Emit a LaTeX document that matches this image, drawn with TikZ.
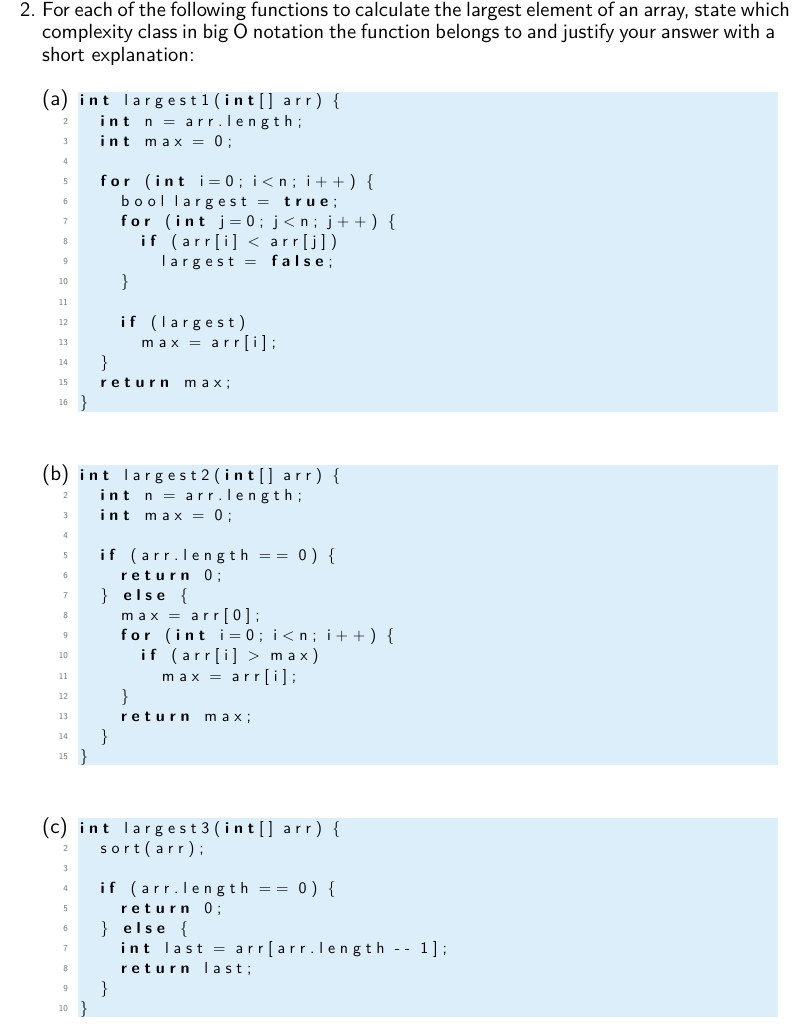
\documentclass[tikz,border=0pt]{standalone}
\usepackage{fontspec}
\newfontfamily\codefont{lmsans10-regular.otf}[BoldFont=lmsans10-bold.otf,LetterSpace=30]
\newfontfamily\plainsans{lmsans10-regular.otf}
\definecolor{codebg}{RGB}{220,238,250}
\definecolor{numgray}{RGB}{110,110,110}
\newcommand\kw[1]{\textbf{#1}}
\def\basea{106}\def\baseb{480}\def\basec{833}
\newcommand\cl[4]{\node[code] (#1#2) at ({80+20.4*#3},{\csname base#1\endcsname+(#2-1)*20.1}) {#4};}
\tikzset{
  code/.style={anchor=base west,inner sep=0pt,font=\codefont\fontsize{16}{16}\selectfont},
  lnum/.style={anchor=base east,inner sep=0pt,text=numgray,font=\plainsans\fontsize{9}{9}\selectfont},
  head/.style={anchor=base west,inner sep=0pt,font=\plainsans\fontsize{20.5}{20.5}\selectfont},
  lab/.style={anchor=base west,inner sep=0pt,font=\plainsans\fontsize{21}{21}\selectfont},
  bg/.style={fill=codebg,draw=none}
}
\begin{document}
\begin{tikzpicture}[x=1pt,y=-1pt]
\useasboundingbox (0,0) rectangle (795,1024);
\fill[white] (0,0) rectangle (795,1024);
% header
\node[head] (h0) at (20,17) {2.};
\node[head] (h1) at (42,17) {\makebox[733pt][s]{For each of the following functions to calculate the largest element of an array, state which}};
\node[head] (h2) at (42,39) {\makebox[733pt][s]{complexity class in big O notation the function belongs to and justify your answer with a}};
\node[head] (h3) at (42,62) {short explanation:};
% backgrounds
\fill[bg] (78,92) rectangle (778,412);
\fill[bg] (78,465) rectangle (778,765);
\fill[bg] (78,818) rectangle (778,1017);
% labels
\node[lab] (la) at (42,\basea) {(a)};
\node[lab] (lb) at (42,\baseb) {(b)};
\node[lab] (lc) at (42,\basec) {(c)};
% line numbers
\foreach \n in {2,...,16} \node[lnum] (na\n) at (68,{\basea+(\n-1)*20.1-2}) {\n};
\foreach \n in {2,...,15} \node[lnum] (nb\n) at (68,{\baseb+(\n-1)*20.1-2}) {\n};
\foreach \n in {2,...,10} \node[lnum] (nc\n) at (68,{\basec+(\n-1)*20.1-2}) {\n};
% (a)
\cl{a}{1}{0}{\kw{int} largest1(\kw{int}[] arr) \{}
\cl{a}{2}{1}{\kw{int} n = arr.length;}
\cl{a}{3}{1}{\kw{int} max = 0;}
\cl{a}{5}{1}{\kw{for} (\kw{int} i=0; i<n; i++) \{}
\cl{a}{6}{2}{bool largest = \kw{true};}
\cl{a}{7}{2}{\kw{for} (\kw{int} j=0; j<n; j++) \{}
\cl{a}{8}{3}{\kw{if} (arr[i] < arr[j])}
\cl{a}{9}{4}{largest = \kw{false};}
\cl{a}{10}{2}{\}}
\cl{a}{12}{2}{\kw{if} (largest)}
\cl{a}{13}{3}{max = arr[i];}
\cl{a}{14}{1}{\}}
\cl{a}{15}{1}{\kw{return} max;}
\cl{a}{16}{0}{\}}
% (b)
\cl{b}{1}{0}{\kw{int} largest2(\kw{int}[] arr) \{}
\cl{b}{2}{1}{\kw{int} n = arr.length;}
\cl{b}{3}{1}{\kw{int} max = 0;}
\cl{b}{5}{1}{\kw{if} (arr.length == 0) \{}
\cl{b}{6}{2}{\kw{return} 0;}
\cl{b}{7}{1}{\} \kw{else} \{}
\cl{b}{8}{2}{max = arr[0];}
\cl{b}{9}{2}{\kw{for} (\kw{int} i=0; i<n; i++) \{}
\cl{b}{10}{3}{\kw{if} (arr[i] > max)}
\cl{b}{11}{4}{max = arr[i];}
\cl{b}{12}{2}{\}}
\cl{b}{13}{2}{\kw{return} max;}
\cl{b}{14}{1}{\}}
\cl{b}{15}{0}{\}}
% (c)
\cl{c}{1}{0}{\kw{int} largest3(\kw{int}[] arr) \{}
\cl{c}{2}{1}{sort(arr);}
\cl{c}{4}{1}{\kw{if} (arr.length == 0) \{}
\cl{c}{5}{2}{\kw{return} 0;}
\cl{c}{6}{1}{\} \kw{else} \{}
\cl{c}{7}{2}{\kw{int} last = arr[arr.length -- 1];}
\cl{c}{8}{2}{\kw{return} last;}
\cl{c}{9}{1}{\}}
\cl{c}{10}{0}{\}}
\end{tikzpicture}
\end{document}
